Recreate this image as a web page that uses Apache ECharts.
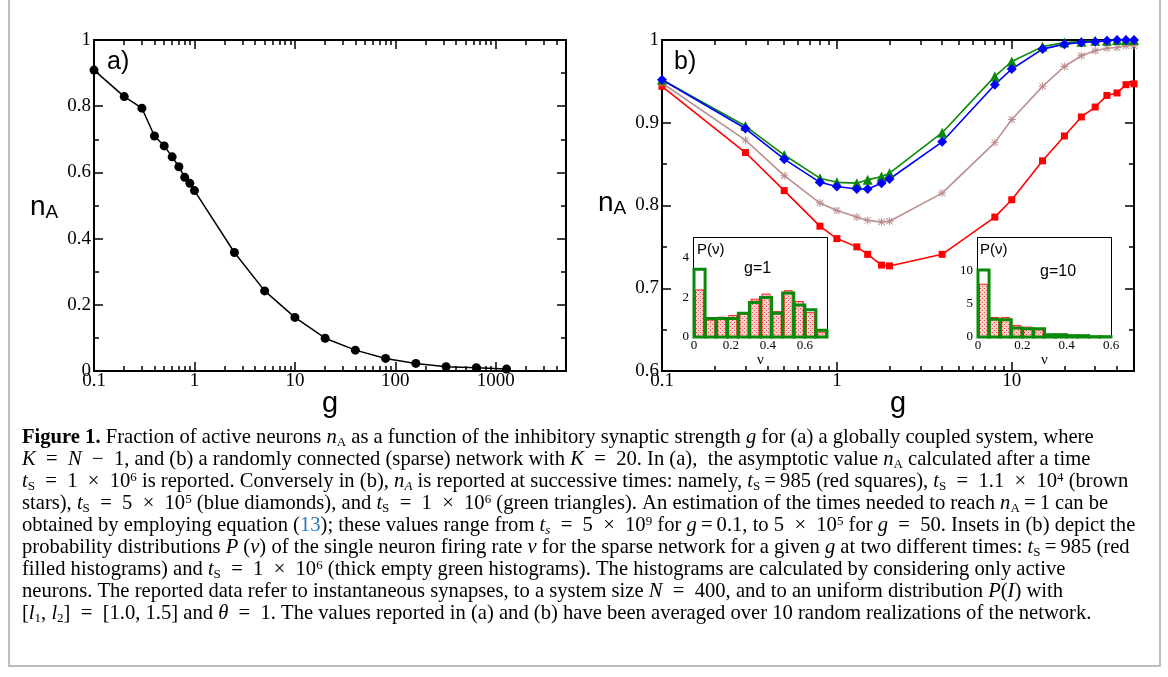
<!DOCTYPE html>
<html><head><meta charset="utf-8">
<script src="https://cdn.jsdelivr.net/npm/echarts@6/dist/echarts.min.js"></script>
<style>html,body{margin:0;padding:0;background:#fff}#c{width:1168px;height:677px}</style>
</head><body><div id="c"></div>
<script>
// ---------------- data ----------------
// panel (a): globally coupled system
const gA = [0.1,0.2,0.3,0.4,0.5,0.6,0.7,0.8,0.9,1,2.5,5,10,20,40,80,160,320,640,1280];
const nA = [0.909,0.829,0.794,0.710,0.680,0.647,0.617,0.585,0.567,0.545,0.358,0.242,0.162,0.099,0.063,0.038,0.023,0.013,0.010,0.006];
// panel (b): sparse network, K = 20
const gB = [0.1,0.3,0.5,0.8,1,1.3,1.5,1.8,2,4,8,10,15,20,25,30,35,40,45,50];
const nRed   = [0.944,0.864,0.818,0.775,0.760,0.750,0.741,0.728,0.727,0.741,0.786,0.807,0.854,0.884,0.907,0.919,0.933,0.936,0.946,0.947];
const nBrown = [0.948,0.879,0.836,0.803,0.794,0.786,0.782,0.780,0.781,0.815,0.876,0.904,0.944,0.968,0.981,0.987,0.990,0.991,0.993,0.993];
const nBlue  = [0.952,0.893,0.856,0.828,0.823,0.820,0.820,0.827,0.832,0.877,0.946,0.965,0.989,0.995,0.997,0.998,0.999,1.000,1.000,1.000];
const nGreen = [0.952,0.896,0.861,0.833,0.828,0.827,0.831,0.835,0.839,0.888,0.956,0.974,0.992,0.997,0.998,0.999,0.999,1.000,1.000,1.000];
// inset g=1 histograms
const edges1 = [0,0.06,0.12,0.18,0.24,0.30,0.36,0.42,0.48,0.54,0.60,0.66,0.72];
const histRed1   = [2.38,0.85,1.00,1.09,1.15,1.91,2.17,1.28,2.34,1.79,1.23,0.24];
const histGreen1 = [3.42,0.94,0.94,0.94,1.20,1.74,2.00,1.20,2.22,1.62,1.37,0.34];
// inset g=10 histograms
const edges2 = [0,0.05,0.10,0.15,0.20,0.25,0.30,0.35,0.40,0.45,0.50,0.55,0.60];
const histRed2   = [8.00,2.96,2.96,1.76,1.50,1.10,0.20,0.15,0.10,0.05,0,0];
const histGreen2 = [10.15,2.70,2.60,1.36,1.26,1.26,0.35,0.35,0.20,0.20,0.05,0.05];
// ticks
const aXMajor = [0.1,1,10,100,1000];
const aXMinor = [0.2,0.3,0.4,0.5,0.6,0.7,0.8,0.9,2,3,4,5,6,7,8,9,20,30,40,50,60,70,80,90,200,300,400,500,600,700,800,900,2000,3000,4000];
const aYMajor = [0,0.2,0.4,0.6,0.8,1];
const aYMinor = [0.1,0.3,0.5,0.7,0.9];
const bXMajor = [0.1,1,10];
const bXMinor = [0.2,0.3,0.4,0.5,0.6,0.7,0.8,0.9,2,3,4,5,6,7,8,9,20,30,40];
const bYMajor = [0.6,0.7,0.8,0.9,1];
const bYMinor = [0.65,0.75,0.85,0.95];
const i1XLabels = [0,0.2,0.4,0.6];
const i1XTicks = [0,0.1,0.2,0.3,0.4,0.5,0.6,0.7];
const i1YLabels = [0,2,4];
const i1YTicks = [0,1,2,3,4,5];
const i2XLabels = [0,0.2,0.4,0.6];
const i2XTicks = [0,0.1,0.2,0.3,0.4,0.5,0.6];
const i2YLabels = [0,5,10];
const i2YTicks = [0,2.5,5,7.5,10,12.5,15];

// ---------------- styles ----------------
const SERIF = 'Liberation Serif';
const SANS = 'Liberation Sans';
const BLACK = '#000';
const fmt = v => String(+(+v).toPrecision(6));

function axisBase(kind, gi, pos, min, max, ticks, len, lw, extra) {
  return Object.assign({
    type: kind, gridIndex: gi, position: pos, min: min, max: max,
    axisLine: {show: true, onZero: false, lineStyle: {color: BLACK, width: lw}},
    axisTick: {show: true, inside: true, length: len, customValues: ticks, lineStyle: {color: BLACK, width: 1.5}},
    axisLabel: {show: false},
    splitLine: {show: false}, minorTick: {show: false}, minorSplitLine: {show: false},
    axisPointer: {show: false}, silent: true
  }, extra || {});
}
function labels(vals, size, margin) {
  return {show: true, customValues: vals, formatter: fmt, fontFamily: SERIF, fontSize: size, color: BLACK, margin: margin};
}
const gName = {name: 'g', nameLocation: 'middle', nameGap: 18, nameMoveOverlap: false,
  nameTextStyle: {fontFamily: SANS, fontSize: 29, color: BLACK}};
const nuName = {name: 'ν', nameLocation: 'middle', nameGap: 16, nameMoveOverlap: false,
  nameTextStyle: {fontFamily: SERIF, fontSize: 15, color: BLACK}};

const xAxes = [
  // panel a
  axisBase('log', 0, 'bottom', 0.1, 5000, aXMajor, 9, 2, Object.assign({axisLabel: labels(aXMajor, 19, 1)}, gName)),
  axisBase('log', 0, 'bottom', 0.1, 5000, aXMinor, 5, 2),
  axisBase('log', 0, 'top', 0.1, 5000, aXMajor, 9, 2),
  axisBase('log', 0, 'top', 0.1, 5000, aXMinor, 5, 2),
  // panel b
  axisBase('log', 1, 'bottom', 0.1, 50, bXMajor, 9, 2, Object.assign({axisLabel: labels(bXMajor, 19, 1)}, gName)),
  axisBase('log', 1, 'bottom', 0.1, 50, bXMinor, 5, 2),
  axisBase('log', 1, 'top', 0.1, 50, bXMajor, 9, 2),
  axisBase('log', 1, 'top', 0.1, 50, bXMinor, 5, 2),
  // inset 1
  axisBase('value', 2, 'bottom', 0, 0.72, i1XTicks, 4, 2, Object.assign({axisLabel: labels(i1XLabels, 13, 2)}, nuName)),
  axisBase('value', 2, 'top', 0, 0.72, i1XTicks, 4, 2),
  // inset 2
  axisBase('value', 3, 'bottom', 0, 0.6, i2XTicks, 4, 2, Object.assign({axisLabel: labels(i2XLabels, 13, 2)}, nuName)),
  axisBase('value', 3, 'top', 0, 0.6, i2XTicks, 4, 2)
];
const yAxes = [
  axisBase('value', 0, 'left', 0, 1, aYMajor, 9, 2, {axisLabel: labels(aYMajor, 19, 3)}),
  axisBase('value', 0, 'left', 0, 1, aYMinor, 5, 2),
  axisBase('value', 0, 'right', 0, 1, aYMajor, 9, 2),
  axisBase('value', 0, 'right', 0, 1, aYMinor, 5, 2),
  axisBase('value', 1, 'left', 0.6, 1, bYMajor, 9, 2, {axisLabel: labels(bYMajor, 19, 3)}),
  axisBase('value', 1, 'left', 0.6, 1, bYMinor, 5, 2),
  axisBase('value', 1, 'right', 0.6, 1, bYMajor, 9, 2),
  axisBase('value', 1, 'right', 0.6, 1, bYMinor, 5, 2),
  axisBase('value', 2, 'left', 0, 5, i1YTicks, 4, 2, {axisLabel: labels(i1YLabels, 13, 5)}),
  axisBase('value', 2, 'right', 0, 5, i1YTicks, 4, 2),
  axisBase('value', 3, 'left', 0, 15, i2YTicks, 4, 2, {axisLabel: labels(i2YLabels, 13, 5)}),
  axisBase('value', 3, 'right', 0, 15, i2YTicks, 4, 2)
];

const grids = [
  {left: 94, top: 40, width: 472, height: 331},
  {left: 662, top: 40, width: 472, height: 331},
  {left: 694, top: 238, width: 133, height: 99, show: true, backgroundColor: '#fff', borderWidth: 0, z: 5},
  {left: 978, top: 238, width: 133, height: 99, show: true, backgroundColor: '#fff', borderWidth: 0, z: 5}
].map(g => Object.assign({outerBoundsMode: 'none', containLabel: false}, g));

// dotted pink fill for the red histograms
const pat = document.createElement('canvas');
pat.width = 4; pat.height = 4;
(function () {
  const c = pat.getContext('2d');
  c.fillStyle = '#ffcfcf'; c.fillRect(0, 0, 4, 4);
  c.fillStyle = '#ee4a4a'; c.fillRect(0, 0, 1, 1); c.fillRect(2, 2, 1, 1);
})();

function histData(edges, h) { return h.map((v, i) => [edges[i], edges[i + 1], v]); }
function histSeries(gi, edges, h, kind) {
  return {
    type: 'custom', xAxisIndex: gi === 2 ? 8 : 10, yAxisIndex: gi === 2 ? 8 : 10, z: 6 + (kind === 'green' ? 1 : 0),
    data: histData(edges, h), clip: false, silent: true,
    encode: {x: [0, 1], y: 2},
    renderItem: function (params, api) {
      const p0 = api.coord([api.value(0), api.value(2)]);
      const p1 = api.coord([api.value(1), 0]);
      const g = kind === 'green';
      const style = g
        ? {fill: 'none', stroke: '#0a8a0a', lineWidth: 3}
        : {fill: {image: pat, repeat: 'repeat'}, stroke: '#ff2020', lineWidth: 1};
      return {type: 'rect', shape: {x: p0[0] + (g ? 0 : 1.5), y: p0[1], width: p1[0] - p0[0] - (g ? 0 : 3), height: p1[1] - p0[1]}, style: style};
    }
  };
}

const asterisk = 'path://M8.8 0H11.2V20H8.8Z M0 8.8H20V11.2H0Z M3.05 1.35L18.65 16.95L16.95 18.65L1.35 3.05Z M18.65 3.05L3.05 18.65L1.35 16.95L16.95 1.35Z';

function lineB(vals, color, symbol, size) {
  return {type: 'line', xAxisIndex: 4, yAxisIndex: 4, data: gB.map((g, i) => [g, vals[i]]),
    symbol: symbol, symbolSize: size, showSymbol: true, silent: true,
    lineStyle: {color: color, width: 1.6}, itemStyle: {color: color, borderWidth: 0}};
}

const series = [
  {type: 'line', xAxisIndex: 0, yAxisIndex: 0, data: gA.map((g, i) => [g, nA[i]]),
   symbol: 'circle', symbolSize: 9, silent: true,
   lineStyle: {color: BLACK, width: 1.5}, itemStyle: {color: BLACK, borderWidth: 0}},
  lineB(nRed, '#ff0000', 'rect', 7),
  lineB(nBrown, '#bc8f8f', asterisk, 8),
  lineB(nGreen, '#0a8a0a', 'triangle', 10),
  lineB(nBlue, '#0000ff', 'diamond', 10),
  histSeries(2, edges1, histRed1, 'red'),
  histSeries(2, edges1, histGreen1, 'green'),
  histSeries(3, edges2, histRed2, 'red'),
  histSeries(3, edges2, histGreen2, 'green')
];

// ---------------- caption ----------------
const CF = 20.6;
const rich = {
  r: {fontFamily: SERIF, fontSize: CF, lineHeight: 22, fill: BLACK},
  b: {fontFamily: SERIF, fontSize: CF, lineHeight: 22, fontWeight: 'bold', fill: BLACK},
  i: {fontFamily: SERIF, fontSize: CF, lineHeight: 22, fontStyle: 'italic', fill: BLACK},
  s: {fontFamily: SERIF, fontSize: 13, lineHeight: 12, verticalAlign: 'bottom', fill: BLACK},
  is: {fontFamily: SERIF, fontSize: 13, lineHeight: 12, verticalAlign: 'bottom', fontStyle: 'italic', fill: BLACK},
  sp: {fontFamily: SERIF, fontSize: 13, lineHeight: 16, verticalAlign: 'top', fill: BLACK},
  l: {fontFamily: SERIF, fontSize: CF, lineHeight: 22, fill: '#2a7ab8'}
};
// E = spaced math operator padding, T = tight
const E = '\u2002', T = '\u2009';
const captionLines = [
  '{b|Figure 1.}{r| Fraction of active neurons }{i|n}{s|A}{r| as a function of the inhibitory synaptic strength }{i|g}{r| for (a) a globally coupled system, where}',
  `{i|K}{r|${E}=${E}}{i|N}{r|${E}−${E}1, and (b) a randomly connected (sparse) network with }{i|K}{r|${E}=${E}20. In (a),  the asymptotic value }{i|n}{s|A}{r| calculated after a time}`,
  `{i|t}{s|S}{r|${E}=${E}1${E}×${E}10}{sp|6}{r| is reported. Conversely in (b), }{i|n}{is|A}{r| is reported at successive times: namely, }{i|t}{s|S}{r|${T}=${T}985 (red squares), }{i|t}{s|S}{r|${E}=${E}1.1${E}×${E}10}{sp|4}{r| (brown}`,
  `{r|stars), }{i|t}{s|S}{r|${E}=${E}5${E}×${E}10}{sp|5}{r| (blue diamonds), and }{i|t}{s|S}{r|${E}=${E}1${E}×${E}10}{sp|6}{r| (green triangles). An estimation of the times needed to reach }{i|n}{s|A}{r|${T}=${T}1 can be}`,
  `{r|obtained by employing equation (}{l|13}{r|); these values range from }{i|t}{is|s}{r|${E}=${E}5${E}×${E}10}{sp|9}{r| for }{i|g}{r|${T}=${T}0.1, to 5${E}×${E}10}{sp|5}{r| for }{i|g}{r|${E}=${E}50. Insets in (b) depict the}`,
  `{r|probability distributions }{i|P}{r| (}{i|ν}{r|) of the single neuron firing rate }{i|ν}{r| for the sparse network for a given }{i|g}{r| at two different times: }{i|t}{s|S}{r|${T}=${T}985 (red}`,
  `{r|filled histograms) and }{i|t}{s|S}{r|${E}=${E}1${E}×${E}10}{sp|6}{r| (thick empty green histograms). The histograms are calculated by considering only active}`,
  `{r|neurons. The reported data refer to instantaneous synapses, to a system size }{i|N}{r|${E}=${E}400, and to an uniform distribution }{i|P}{r|(}{i|I}{r|) with}`,
  `{r|[}{i|l}{s|1}{r|, }{i|l}{s|2}{r|]${E}=${E}[1.0, 1.5] and }{i|θ}{r|${E}=${E}1. The values reported in (a) and (b) have been averaged over 10 random realizations of the network.}`
];

const graphics = [];
captionLines.forEach((t, k) => {
  graphics.push({type: 'text', x: 22, y: 438 + 22 * k, silent: true,
    style: {text: t, rich: rich, verticalAlign: 'middle', fontFamily: SERIF, fontSize: CF, fill: BLACK}});
});
// panel letters and y titles
graphics.push({type: 'text', x: 107, y: 62, style: {text: 'a)', fontFamily: SANS, fontSize: 25, fill: BLACK, verticalAlign: 'middle'}});
graphics.push({type: 'text', x: 674, y: 62, style: {text: 'b)', fontFamily: SANS, fontSize: 25, fill: BLACK, verticalAlign: 'middle'}});
const nRich = {n: {fontFamily: SANS, fontSize: 28, lineHeight: 30, fill: BLACK}, a: {fontFamily: SANS, fontSize: 19, lineHeight: 18, verticalAlign: 'bottom', fill: BLACK}};
graphics.push({type: 'text', x: 30, y: 207, style: {text: '{n|n}{a|A}', rich: nRich, verticalAlign: 'middle'}});
graphics.push({type: 'text', x: 598, y: 203, style: {text: '{n|n}{a|A}', rich: nRich, verticalAlign: 'middle'}});
// inset texts
const insetTxt = (x, y, t, s) => ({type: 'text', x: x, y: y, z: 100, style: {text: t, fontFamily: SANS, fontSize: s, fill: BLACK, verticalAlign: 'middle'}});
graphics.push(insetTxt(697, 250, 'P(ν)', 15));
graphics.push(insetTxt(744, 269, 'g=1', 16));
graphics.push(insetTxt(980, 250, 'P(ν)', 15));
graphics.push(insetTxt(1040, 272, 'g=10', 16));
// figure frame
graphics.push({type: 'polyline', silent: true, shape: {points: [[9, 0], [9, 666], [1160, 666], [1160, 0]]}, style: {stroke: '#a8a8a8', lineWidth: 1.5, fill: 'none'}});

const chart = echarts.init(document.getElementById('c'), null, {renderer: 'canvas', width: 1168, height: 677});
chart.setOption({
  animation: false,
  backgroundColor: '#fff',
  grid: grids,
  xAxis: xAxes,
  yAxis: yAxes,
  series: series,
  graphic: {elements: graphics}
});
</script>
</body></html>
